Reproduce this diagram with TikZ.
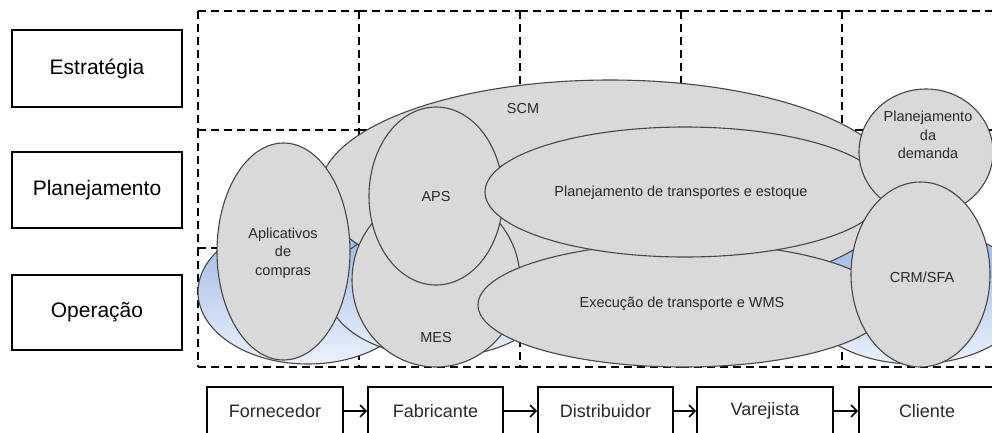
\documentclass[tikz,border=0pt]{standalone}
\usepackage{fontspec}
\setmainfont{Liberation Sans}
\usetikzlibrary{shapes.geometric,arrows.meta}
\definecolor{blobfill}{RGB}{217,217,217}
\definecolor{blobedge}{RGB}{70,70,70}
\definecolor{basetop}{RGB}{150,180,228}
\definecolor{basebot}{RGB}{236,241,252}
\definecolor{inktext}{RGB}{40,40,40}

\begin{document}
\begin{tikzpicture}[x=1pt,y=-1pt,
  layerbox/.style={draw=black,line width=1.6pt,minimum width=170pt,minimum height=76pt,inner sep=0pt,font=\fontsize{21}{25}\selectfont},
  chainbox/.style={draw=black,line width=1.6pt,minimum width=136pt,minimum height=48pt,inner sep=0pt,font=\fontsize{18}{22}\selectfont,text=inktext},
  flow/.style={line width=1.6pt,-{Straight Barb[length=6pt,width=12pt]}},
  cellline/.style={line width=1.6pt,dash pattern=on 8pt off 5pt},
  blob/.style={ellipse,draw=blobedge,line width=1.1pt,fill=blobfill,inner sep=0pt},
  base/.style={ellipse,draw=blobedge,line width=1.1pt,top color=basetop,bottom color=basebot,inner sep=0pt},
  tag/.style={font=\fontsize{14.5}{18.5}\selectfont,text=inktext,align=center,inner sep=0pt},
]
\useasboundingbox (0,0) rectangle (992,432);
\begin{scope}
\clip (0,0) rectangle (992,432);

% dashed grid of cells: levels x chain members
\foreach \xa/\xb in {198/359,359/520,520/681,681/842,842/1003}
  \foreach \yy in {11,130,248,367}
    \draw[cellline] (\xa,\yy) -- (\xb,\yy);
\foreach \ya/\yb in {11/130,130/248,248/367}
  \foreach \xx in {198,359,520,681,842}
    \draw[cellline] (\xx,\ya) -- (\xx,\yb);

% blue bases in the operation row
\node[base,minimum width=220pt,minimum height=144pt] (baseL) at (308,292) {};
\node[base,minimum width=226pt,minimum height=134pt] (baseM) at (440,290) {};
\node[base,minimum width=224pt,minimum height=136pt] (baseR) at (915,296) {};

% application ellipses, back to front
\node[blob,minimum width=580pt,minimum height=220pt] (scm) at (610,190) {};
\node[blob,minimum width=133pt,minimum height=217pt] (apl) at (283.5,251.5) {};
\node[blob,minimum width=168pt,minimum height=174pt] (mes) at (436,280) {};
\node[blob,minimum width=134pt,minimum height=178pt] (aps) at (436,196) {};
\node[blob,minimum width=410pt,minimum height=124pt] (exe) at (683,305) {};
\node[blob,minimum width=400pt,minimum height=130pt] (ptr) at (685,192) {};
\node[blob,minimum width=134pt,minimum height=126pt] (dem) at (926,152) {};
\node[blob,minimum width=139pt,minimum height=185pt] (crm) at (920.5,274.5) {};

% ellipse labels
\node[tag] (scmT) at (523,109) {SCM};
\node[tag] (aplT) at (283,253) {Aplicativos\\de\\compras};
\node[tag] (apsT) at (436,197) {APS};
\node[tag] (mesT) at (436,337) {MES};
\node[tag] (ptrT) at (681,193) {Planejamento de transportes e estoque};
\node[tag] (exeT) at (682,304) {Execução de transporte e WMS};
\node[tag] (demT) at (928,135) {Planejamento\\da\\demanda};
\node[tag] (crmT) at (922,277) {CRM/SFA};

% planning levels
\node[layerbox,minimum height=77pt] (est) at (97,68.5) {Estratégia};
\node[layerbox] (pla) at (97,190) {Planejamento};
\node[layerbox,minimum height=75pt] (ope) at (97,312.5) {Operação};

% supply chain members
\node[chainbox] (forn) at (275,411) {Fornecedor};
\node[chainbox,minimum width=135pt] (fab) at (435.5,411) {Fabricante};
\node[chainbox,minimum width=135pt] (dis) at (605.5,411) {Distribuidor};
\node[chainbox] (var) at (765,411) {Varejista};
\node[chainbox] (cli) at (927,411) {Cliente};
\draw[flow] (forn) -- (fab);
\draw[flow] (fab) -- (dis);
\draw[flow] (dis) -- (var);
\draw[flow] (var) -- (cli);
\end{scope}
\end{tikzpicture}
\end{document}
